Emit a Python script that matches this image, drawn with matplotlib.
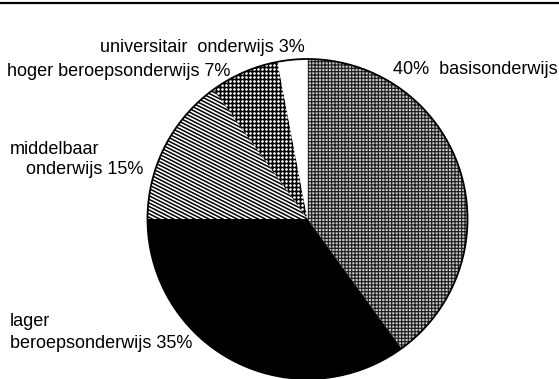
import matplotlib
matplotlib.use('Agg')
import matplotlib.pyplot as plt
import numpy as np
from matplotlib.collections import LineCollection

plt.rcParams['font.family'] = 'Liberation Sans'
plt.rcParams['hatch.linewidth'] = 0.8

# share of each education level (percent)
categories = ['basisonderwijs', 'lager beroepsonderwijs', 'middelbaar onderwijs',
              'hoger beroepsonderwijs', 'universitair onderwijs']
shares = [40, 35, 15, 7, 3]

W, H = 559, 379
fig = plt.figure(figsize=(W / 100, H / 100), dpi=100)
ax = fig.add_axes([0, 0, 1, 1])

cx, cy, r = 307.5, 219, 160
# axes in pixel units, y down: startangle -90 is 12 o'clock, ccw here reads clockwise
wedges, _ = ax.pie(shares, center=(cx, cy), radius=r, startangle=-90,
                   counterclock=True, colors=['white', 'black', 'white', 'black', 'white'],
                   wedgeprops=dict(linewidth=0))
ax.set_xlim(0, W)
ax.set_ylim(H, 0)
ax.set_aspect('auto')
ax.axis('off')

# basisonderwijs: fine grey screen
wedges[0].set_hatch('+++++')
wedges[0].set_edgecolor('#1a1a1a')
wedges[0].set_facecolor('#c4c4c4')

# middelbaar: shallow diagonal rules
ang = np.deg2rad(27)
d = np.array([np.cos(ang), np.sin(ang)])
n = np.array([-np.sin(ang), np.cos(ang)])
segs = []
for off in np.arange(-400, 400, 3.2):
    p = np.array([cx, cy]) + n * off
    segs.append([p - d * 400, p + d * 400])
lc = LineCollection(segs, colors='black', linewidths=1.1)
ax.add_collection(lc)
lc.set_clip_path(wedges[2])

# hoger beroeps: black with white dots
gx, gy = np.meshgrid(np.arange(cx - 170, cx + 10, 4.0), np.arange(cy - 170, cy + 10, 4.0))
dots = ax.scatter(gx.ravel(), gy.ravel(), s=3.6, color='white', linewidths=0)
dots.set_clip_path(wedges[3])

# outline
ax.add_patch(plt.Circle((cx, cy), r, fill=False, lw=1.3, color='black'))

ax.axhline(3, color='black', lw=1.6)

fs = 13
ax.text(100, 47, f'universitair  onderwijs {shares[4]}%', fontsize=fs, va='center')
ax.text(7, 72, f'hoger beroepsonderwijs {shares[3]}%', fontsize=fs, va='center')
ax.text(393, 69, f'{shares[0]}%  basisonderwijs', fontsize=fs, va='center')
ax.text(10, 150, 'middelbaar', fontsize=fs, va='center')
ax.text(26, 170, f'onderwijs {shares[2]}%', fontsize=fs, va='center')
ax.text(10, 321, 'lager', fontsize=fs, va='center')
ax.text(10, 343, f'beroepsonderwijs {shares[1]}%', fontsize=fs, va='center')

fig.savefig('out.png', dpi=100)
